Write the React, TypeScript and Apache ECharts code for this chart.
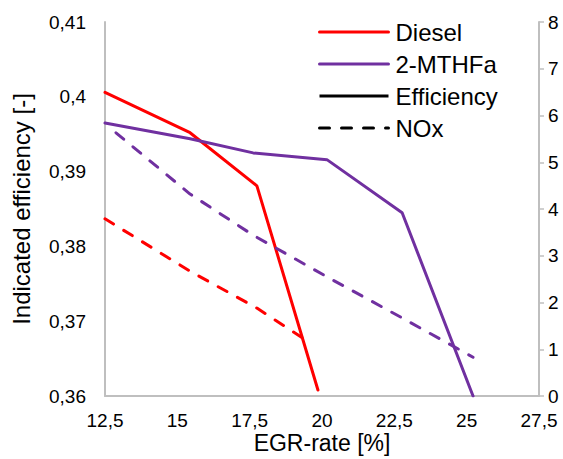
import React, { useEffect, useRef } from "react";
import * as echarts from "echarts";

const dieselEffX = [12.5, 15.44, 17.75, 19.86];
const dieselEff = [0.4006, 0.3952, 0.3881, 0.3608];
const dieselNoxX = [12.5, 15.44, 17.75, 19.6];
const dieselNox = [3.79, 2.67, 1.88, 1.13];

const mthfEffX = [12.5, 15.44, 17.62, 20.17, 22.77, 25.22];
const mthfEff = [0.3965, 0.3944, 0.3925, 0.3916, 0.3845, 0.36];
const mthfNoxX = [12.88, 15.44, 17.62, 20.17, 22.77, 25.22];
const mthfNox = [5.63, 4.32, 3.44, 2.55, 1.67, 0.83];

const legendNames = ["Diesel", "2-MTHFa", "Efficiency", "NOx"];

const RED = "#FF0000";
const PURPLE = "#7030A0";
const AXIS_GREY = "#BFBFBF";
const FONT = "'Liberation Sans', Arial, sans-serif";

const zip = (xs: number[], ys: number[]) => xs.map((x, i) => [x, ys[i]]);
const comma = (v: number) => String(+v.toFixed(4)).replace(".", ",");

export default function App() {
  const ref = useRef<HTMLDivElement>(null);
  useEffect(() => {
    if (!ref.current) return;
    const chart = echarts.init(ref.current, undefined, { renderer: "svg" });
    chart.setOption({
      animation: false,
      backgroundColor: "#ffffff",
      textStyle: { fontFamily: FONT },
      grid: { left: 105, right: 24, top: 22, bottom: 63, containLabel: false, outerBoundsMode: "none" },
      legend: {
        data: legendNames,
        orient: "vertical",
        left: 313,
        top: 15,
        padding: 5,
        itemWidth: 69,
        itemHeight: 14,
        itemGap: 8,
        lineStyle: { width: 3 },
        itemStyle: { color: "rgba(0,0,0,0)", borderColor: "rgba(0,0,0,0)", borderWidth: 0, opacity: 0 },
        textStyle: { fontFamily: FONT, fontSize: 24, color: "#000", padding: [0, 0, 0, 2] },
        selectedMode: false,
      },
      xAxis: {
        type: "value",
        min: 12.5,
        max: 27.5,
        interval: 2.5,
        name: "EGR-rate [%]",
        nameLocation: "middle",
        nameGap: 35,
        nameMoveOverlap: false,
        nameTextStyle: { fontFamily: FONT, fontSize: 23, color: "#000", lineHeight: 24 },
        axisLine: { show: true, lineStyle: { color: AXIS_GREY, width: 2 } },
        axisTick: { show: false },
        splitLine: { show: false },
        axisLabel: { fontFamily: FONT, fontSize: 19, color: "#000", margin: 14, lineHeight: 20, formatter: comma },
      },
      yAxis: [
        {
          type: "value",
          position: "left",
          min: 0.36,
          max: 0.41,
          interval: 0.01,
          name: "Indicated efficiency [-]",
          nameLocation: "middle",
          nameGap: 72,
          nameMoveOverlap: false,
          nameTextStyle: { fontFamily: FONT, fontSize: 24, color: "#000" },
          axisLine: { show: true, lineStyle: { color: AXIS_GREY, width: 2 } },
          axisTick: { show: false },
          splitLine: { show: false },
          axisLabel: { fontFamily: FONT, fontSize: 19, color: "#000", margin: 19, formatter: comma },
        },
        {
          type: "value",
          position: "right",
          min: 0,
          max: 8,
          interval: 1,
          axisLine: { show: true, lineStyle: { color: AXIS_GREY, width: 2 } },
          axisTick: { show: true, inside: false, length: 5, lineStyle: { color: AXIS_GREY, width: 1.5 } },
          splitLine: { show: false },
          axisLabel: { fontFamily: FONT, fontSize: 19, color: "#000", margin: 9, formatter: comma },
        },
      ],
      series: [
        {
          name: "Diesel",
          type: "line",
          yAxisIndex: 0,
          data: zip(dieselEffX, dieselEff),
          symbol: "none",
          lineStyle: { color: RED, width: 3, cap: "round" },
          itemStyle: { color: RED },
        },
        {
          name: "2-MTHFa",
          type: "line",
          yAxisIndex: 0,
          data: zip(mthfEffX, mthfEff),
          symbol: "none",
          lineStyle: { color: PURPLE, width: 3, cap: "round" },
          itemStyle: { color: PURPLE },
        },
        {
          name: "Diesel NOx",
          type: "line",
          yAxisIndex: 1,
          data: zip(dieselNoxX, dieselNox),
          symbol: "none",
          lineStyle: { color: RED, width: 3, type: [10, 12], cap: "round" },
          itemStyle: { color: RED },
        },
        {
          name: "2-MTHFa NOx",
          type: "line",
          yAxisIndex: 1,
          data: zip(mthfNoxX, mthfNox),
          symbol: "none",
          lineStyle: { color: PURPLE, width: 3, type: [10, 12], cap: "round" },
          itemStyle: { color: PURPLE },
        },
        {
          name: "Efficiency",
          type: "line",
          yAxisIndex: 0,
          data: [],
          symbol: "none",
          lineStyle: { color: "#000", width: 3 },
          itemStyle: { color: "#000" },
        },
        {
          name: "NOx",
          type: "line",
          yAxisIndex: 1,
          data: [],
          symbol: "none",
          lineStyle: { color: "#000", width: 3, type: [10, 12], cap: "round" },
          itemStyle: { color: "#000" },
        },
      ],
    });
    return () => chart.dispose();
  }, []);
  return (
    <div
      ref={ref}
      style={{ position: "fixed", left: 0, top: 0, width: 563, height: 459 }}
    />
  );
}
